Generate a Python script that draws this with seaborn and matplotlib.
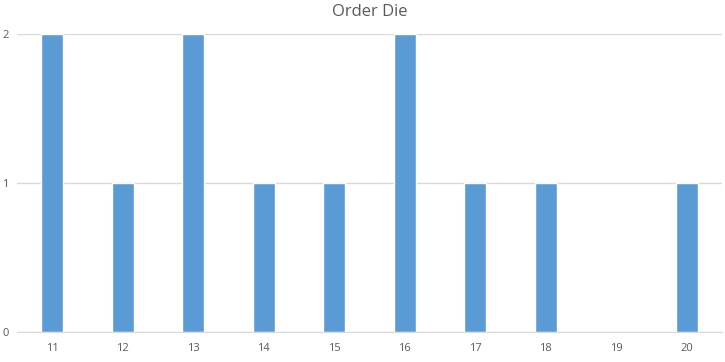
import matplotlib
matplotlib.use("Agg")
import matplotlib.pyplot as plt
import seaborn as sns
import pandas as pd

categories = ["11", "12", "13", "14", "15", "16", "17", "18", "19", "20"]
values = [2, 1, 2, 1, 1, 2, 1, 1, 0, 1]
yticks = [0, 1, 2]
title = "Order Die"

sns.set_style("white")
plt.rcParams['font.family'] = ['Open Sans', 'DejaVu Sans']

df = pd.DataFrame({"cat": categories, "val": values})

fig = plt.figure(figsize=(7.25, 3.62), dpi=100)
ax = fig.add_axes([17/725, 1 - 332/362, (722 - 17)/725, (332 - 34)/362])
sns.barplot(data=df, x="cat", y="val", color="#5B9BD5", saturation=1, width=0.31, ax=ax)
ax.set_xlim(-0.5, len(categories) - 0.5)
ax.set_ylim(0, 2)
ax.set_yticks(yticks)
ax.yaxis.grid(True, color="#D9D9D9", linewidth=1)
ax.set_axisbelow(True)
for s in ["top", "right", "left"]:
    ax.spines[s].set_visible(False)
ax.spines["bottom"].set_color("#D9D9D9")
ax.tick_params(axis="both", length=0, labelsize=8, labelcolor="#595959")
ax.tick_params(axis="y", pad=6)
ax.tick_params(axis="x", pad=8)
ax.set_xlabel("")
ax.set_ylabel("")
fig.text(370/725, 1 - 12/362, title, ha="center", va="center", fontsize=12, color="#595959")
fig.savefig("out.png", dpi=100)
